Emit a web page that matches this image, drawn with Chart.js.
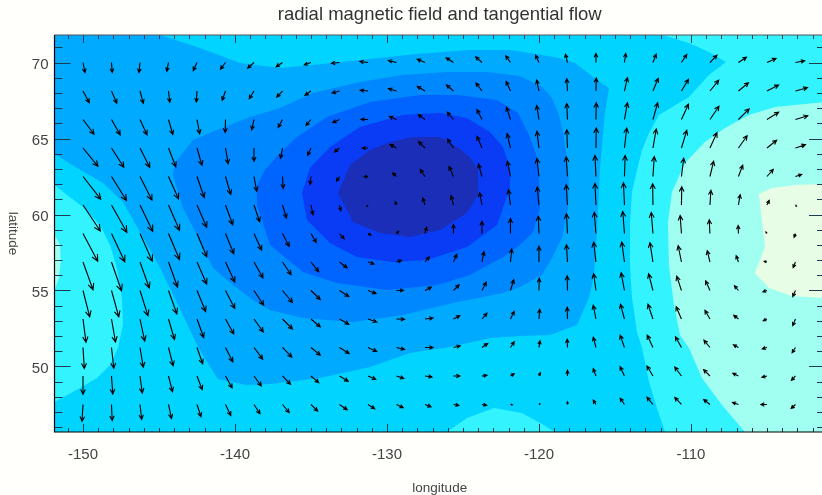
<!DOCTYPE html>
<html>
<head>
<meta charset="utf-8">
<title>radial magnetic field and tangential flow</title>
<script src="https://cdn.jsdelivr.net/npm/chart.js@4/dist/chart.umd.min.js"></script>
<style>
  html, body { margin: 0; padding: 0; background: #fffffb; overflow: hidden; }
  #wrap { width: 822px; height: 495px; overflow: hidden; }
  canvas { display: block; }
</style>
</head>
<body>
<div id="wrap"><canvas id="chart" width="830" height="495" style="width:830px;height:495px"></canvas></div>
<script>
const xTickVals = [-150, -140, -130, -120, -110];
const yTickVals = [50, 55, 60, 65, 70];
const xLimits = [-151.875, -101.18];
const yLimits = [45.69, 71.81];

// arrow tails
const flowLon = [-150, -148.125, -146.25, -144.375, -142.5, -140.625, -138.75, -136.875, -135, -133.125, -131.25, -129.375, -127.5, -125.625, -123.75, -121.875, -120, -118.125, -116.25, -114.375, -112.5, -110.625, -108.75, -106.875, -105, -103.125];
const flowLat = [70, 68.125, 66.25, 64.375, 62.5, 60.625, 58.75, 56.875, 55, 53.125, 51.25, 49.375, 47.5];

// tangential flow, one row per latitude
const flowU = [
  [2, 0.7, -1, -1.7, -3.7, -5, -6.3, -6.3, -6.7, -8, -8, -8, -7.7, -7.3, -6.3, -4.7, -3.3, -2, 0, 1.3, 3.3, 5.3, 7, 8, 9, 9.3],
  [6.3, 5.3, 3.3, 1.3, -0.7, -3.3, -4.7, -5.7, -6, -7.3, -7.7, -8, -7.7, -7, -6, -4.3, -2.3, -0.7, 0.3, 3, 5.3, 7, 8.7, 10, 11.7, 12],
  [11, 8.7, 7, 4.3, 2.7, -0.3, -2.3, -4.3, -5, -6.7, -7, -7, -6.7, -6.3, -5, -4, -2.3, -0.7, 0.3, 3, 4.7, 7, 9, 10.7, 11.7, 12.3],
  [15, 12.3, 9.7, 7.3, 5, 2.7, 0, -2, -3.3, -5, -5.7, -6.3, -6.3, -6, -5, -3.3, -2, -0.7, 0.3, 2.3, 3.3, 5.3, 7, 8.7, 9.7, 10],
  [17.7, 15, 12, 10, 7.3, 5.3, 2.7, 0.7, -1, -3, -3.7, -4, -4.7, -4.3, -3.5, -3, -2, -1.3, -1, 0.7, 1.3, 2.3, 3.7, 4.3, 6.3, 6.3],
  [17.3, 15.3, 12.7, 11, 9.7, 7.3, 5.7, 4, 2, 1.3, -1, -1.3, -2.3, -2.3, -2.3, -2, -1.7, -1.3, -1, -1, -0.3, 0.3, 1, 1.7, 2.3, 1],
  [14.7, 13.3, 12.3, 11, 9.7, 8.3, 7.7, 6.7, 5.3, 4.7, 3, 2, 1.7, 0, 0, 0, -0.7, -1, -1.7, -1.7, -1.7, -1.3, -0.7, -0.3, -1, -1.3],
  [10, 10, 9.3, 9, 9.7, 9.3, 9, 8.7, 7.7, 7.7, 6, 5, 4.3, 3.3, 2, 1.3, 0, -1, -2.3, -2.7, -3, -3.3, -2.7, -2.3, -2.7, -2.3],
  [6.7, 7.3, 8, 8.3, 8.7, 9.3, 9.7, 10, 9.3, 9.3, 8, 7, 6.3, 5.7, 4.3, 3.3, 0.3, -0.3, -2.3, -3.3, -4.3, -4.7, -4.3, -4, -4, -2.7],
  [3, 4, 4.7, 6, 6.7, 8.3, 9.3, 10, 9.3, 9.3, 8.7, 8, 8, 6.3, 5, 3.7, 0.7, -0.3, -2.7, -4, -5, -5.3, -5, -4.7, -3.7, -2.7],
  [1.3, 2.3, 3.3, 4.7, 5.7, 7.3, 8.7, 9.3, 9.3, 9.7, 8.7, 8, 8, 6.7, 5.7, 3.7, 1, -0.3, -2.7, -4.3, -5.7, -6, -6, -5, -4.7, -3.3],
  [0, 1.3, 2.3, 4, 5.3, 6.7, 7.3, 8, 7.7, 8.7, 7.7, 7.3, 7, 6.3, 5, 3.7, 1.3, 0, -2.7, -4.3, -6, -6.7, -6.3, -5.7, -5, -4],
  [-1, 0.7, 1.7, 3, 4, 5.3, 6, 6.7, 6.7, 7.7, 6.7, 6.7, 6, 5.3, 4.7, 2, 1, 0, -2.7, -4.3, -6, -6.7, -6.3, -6, -6, -4.3]
];
const flowV = [
  [-10, -10, -10, -8.7, -8, -6.7, -5.7, -4.3, -2.3, -0.7, 1, 2, 3.3, 4.7, 5.7, 6.7, 7.3, 8.3, 9, 9, 8.3, 8, 7.3, 5.3, 4, 1.7],
  [-11.7, -12.3, -12.3, -11.3, -11, -9.3, -7.7, -6, -4.3, -2, 0.7, 2.3, 4.7, 6, 8, 9.7, 11, 12.3, 13, 13.3, 12.7, 11.7, 10.7, 8.3, 6, 3.3],
  [-14.7, -15.3, -15.3, -15, -14.3, -13, -10.3, -8, -6, -3, 0.3, 3, 5, 7.3, 10, 12.3, 14, 16, 16.7, 16.7, 16.7, 15.3, 13.3, 10.7, 7.3, 3.7],
  [-18.3, -19.3, -19.3, -18.7, -17.3, -15.7, -13.3, -10.3, -7.3, -4, -0.3, 3.3, 6.3, 9, 11.7, 14.3, 16.7, 18.3, 20, 20, 19, 17.7, 15.3, 12.3, 7.7, 3.3],
  [-22.7, -24, -23.7, -22.3, -21, -18, -14.7, -12, -8, -4.7, -0.3, 3.7, 7, 10, 12.5, 15.3, 18, 19.7, 21, 21, 20, 18.3, 15.3, 11.3, 7, 2],
  [-26, -27.3, -26.3, -25.3, -22.3, -19.7, -16.7, -13, -9.7, -5.7, -1.3, 3.3, 7, 9.3, 12.3, 15.3, 18, 20.3, 21.7, 22.3, 21.3, 18.3, 14.7, 10.3, 4.7, -1],
  [-27.7, -28.3, -27.7, -26, -23.3, -20.3, -16.7, -13, -9, -5.3, -1.7, 2, 6.3, 9, 12.3, 15, 17.3, 19.7, 21.3, 22, 21, 18, 13.7, 8, 1.5, -3.7],
  [-27.7, -28.7, -26, -25, -22, -20, -16, -12.7, -9.7, -5.7, -2, 1.7, 5, 7.7, 10.3, 13, 15.7, 17.3, 19.7, 20, 19.3, 16.3, 11.3, 6.3, 0.7, -5.7],
  [-26.3, -26.3, -25.3, -23.3, -21, -18, -14.7, -12, -9, -6, -3, 0.3, 3.3, 5.7, 8.3, 10.7, 12.3, 14.7, 16.7, 17.7, 16.7, 14.3, 9.7, 4.7, -1.3, -6],
  [-23.2, -23, -22, -20.5, -18.5, -15, -13, -10, -8, -5.3, -3, -0.3, 1, 3.3, 5.7, 7.7, 9.7, 11.7, 13.7, 14.7, 14.7, 12.3, 8.7, 3.7, -1.7, -6.7],
  [-21, -20.7, -19.7, -18.3, -16.3, -14.3, -11.7, -9.7, -7.7, -6, -4, -2, 0, 1.7, 4, 5.7, 6.7, 8.3, 10.3, 12.3, 12.3, 10.7, 7.3, 2.7, -1.3, -5.3],
  [-18.3, -18, -17, -15.7, -13.7, -12, -10, -8.3, -6.7, -5.3, -3.3, -2.3, -1, 0, 0.7, 2.3, 3.3, 5.7, 7.3, 9.3, 10, 9, 6.3, 2.7, -1.3, -4.3],
  [-16.7, -16, -15, -14, -12.3, -11, -9.3, -8, -6.7, -5.3, -4.3, -3.3, -2.3, -1, -0.7, -0.3, 0.7, 2.7, 4.3, 6.3, 7.3, 7, 5, 2, 0, -4]
];

// filled contour regions, lon/lat outlines
const plotBox = [[-151.875, 45.69], [-101.18, 45.69], [-101.18, 71.81], [-151.875, 71.81]];
const band6Right = [[-111.91, 71.81], [-110.13, 71.28], [-108.82, 70.69], [-107.7, 70.03], [-108.82, 69.18], [-110.13, 67.73], [-112.11, 66.55], [-112.76, 65.36], [-113.22, 64.24], [-113.55, 62.93], [-113.88, 61.48], [-114.01, 59.51], [-114.01, 56.68], [-113.88, 54.51], [-113.55, 52.27], [-113.22, 51.22], [-112.76, 48.98], [-112.24, 47.27], [-111.71, 45.69], [-101.18, 45.69], [-101.18, 71.81]];
const band6Left = [[-151.875, 61.94], [-151.05, 61.28], [-150, 60.49], [-148.88, 59.31], [-148.22, 57.99], [-147.76, 56.48], [-147.43, 54.51], [-147.37, 52.73], [-147.7, 51.22], [-148.22, 50.1], [-149.08, 49.24], [-150.2, 48.59], [-151.875, 47.66]];
const band6Bottom = [[-126.05, 45.69], [-124.74, 46.61], [-122.96, 47.27], [-121.12, 46.94], [-119.8, 46.22], [-118.95, 45.69]];
const band7Right = [[-101.18, 67.4], [-104.47, 67.07], [-106.18, 66.55], [-107.76, 65.69], [-109.08, 64.77], [-110.39, 63.39], [-111.25, 61.48], [-111.51, 59.51], [-111.45, 56.68], [-111.12, 54.05], [-110.72, 52.07], [-110.13, 51.22], [-109.28, 49.24], [-107.96, 47.47], [-106.45, 45.69], [-101.18, 45.69]];
const band7Left = [[-151.875, 58.65], [-151.51, 57.99], [-151.47, 56.87], [-151.58, 55.82], [-151.875, 55.03]];
const band8 = [[-105.53, 61.35], [-104.67, 61.74], [-103.16, 61.94], [-101.18, 62.01], [-101.18, 54.51], [-103.36, 54.64], [-104.87, 55.16], [-105.79, 56.15], [-105.13, 57.86]];
const band4 = [[-144.93, 71.81], [-142.3, 70.95], [-139.67, 69.97], [-137.04, 69.64], [-134.87, 69.84], [-131.78, 70.16], [-128.03, 70.56], [-124.54, 70.82], [-121.91, 70.82], [-119.8, 70.49], [-118.68, 70.3], [-117.63, 69.97], [-116.18, 68.85], [-115.39, 68.32], [-115.66, 66.68], [-115.86, 64.44], [-115.99, 62.93], [-116.18, 58.85], [-116.38, 56.02], [-116.71, 54.51], [-117.5, 52.73], [-119.28, 52.07], [-121.25, 52.01], [-123.22, 51.87], [-125.86, 51.28], [-128.49, 50.89], [-131.12, 49.97], [-134.41, 49.24], [-137.7, 48.85], [-139.21, 48.78], [-141.12, 49.18], [-141.84, 50.3], [-142.5, 51.41], [-143.42, 53.39], [-144.28, 55.16], [-145.13, 56.87], [-146.25, 58.85], [-147.37, 60.82], [-148.68, 62.07], [-150.39, 63.06], [-151.875, 63.98], [-151.875, 71.81]];
const band3 = [[-144.08, 62.6], [-143.95, 63.39], [-142.76, 64.9], [-141.18, 65.56], [-139.01, 66.41], [-137.04, 67.01], [-134.87, 67.99], [-131.78, 68.72], [-128.95, 69.18], [-126.05, 69.37], [-123.42, 69.37], [-121.25, 69.11], [-119.8, 68.39], [-119.14, 67.66], [-118.68, 66.55], [-118.36, 65.1], [-118.16, 63.78], [-118.03, 62.27], [-118.09, 60.43], [-118.49, 58.45], [-119.14, 57.14], [-119.8, 56.02], [-121.25, 55.23], [-122.37, 54.84], [-125.66, 54.18], [-128.95, 53.39], [-132.24, 52.93], [-135.53, 53.19], [-137.7, 53.72], [-138.82, 54.37], [-140.13, 55.36], [-141.45, 56.48], [-142.5, 58.65], [-143.42, 60.43]];
const band2 = [[-138.03, 62.93], [-137.04, 64.05], [-135.92, 65.1], [-133.95, 66.41], [-131.12, 67.4], [-127.83, 67.86], [-125.39, 67.86], [-122.76, 67.53], [-121.38, 66.68], [-120.72, 65.36], [-120.13, 63.78], [-120, 62.6], [-119.93, 60.43], [-120.39, 58.85], [-121.25, 57.99], [-122.37, 57.2], [-124.54, 56.02], [-126.71, 55.36], [-130, 55.03], [-133.29, 55.49], [-135.53, 56.22], [-137.7, 57.99], [-138.55, 60.62], [-138.55, 61.94]];
const band1 = [[-135.59, 61.41], [-135.07, 63.06], [-133.75, 64.44], [-131.78, 65.76], [-128.95, 66.55], [-126.51, 66.68], [-124.74, 66.35], [-123.22, 65.43], [-122.37, 64.44], [-121.91, 63.06], [-121.91, 61.74], [-122.76, 59.31], [-124.74, 57.86], [-127.37, 57.01], [-129.61, 56.87], [-131.97, 57.2], [-133.75, 58.12], [-135.26, 59.64]];
const band0 = [[-133.22, 61.41], [-132.43, 63.26], [-131.12, 64.24], [-129.8, 64.77], [-128.29, 65.1], [-126.51, 65.1], [-125.39, 64.44], [-124.54, 63.78], [-124.01, 62.93], [-124.01, 61.28], [-124.74, 60.1], [-126.51, 58.98], [-128.49, 58.52], [-130.46, 58.78], [-132.24, 59.51]];

const bands = [
  [plotBox, '#00d4ff'],
  [band6Right, '#33f3ff'],
  [band6Left, '#33f3ff'],
  [band6Bottom, '#33f3ff'],
  [band7Right, '#a0fff0'],
  [band7Left, '#a0fff0'],
  [band8, '#e8fde6'],
  [band4, '#00aaff'],
  [band3, '#0088ff'],
  [band2, '#0064ff'],
  [band1, '#0a3cf5'],
  [band0, '#1a2eb8']
];

const datasets = bands.map(function(b, i) {
  return {
    type: 'scatter',
    data: b[0].map(function(p) { return { x: p[0], y: p[1] }; }),
    showLine: true,
    fill: 'shape',
    backgroundColor: b[1],
    borderColor: b[1],
    borderWidth: 0,
    pointRadius: 0,
    order: 100 - i
  };
});

// arrows, drawn after the contours
const arrowPlugin = {
  id: 'arrows',
  afterDatasetsDraw: function(chart) {
    const ctx = chart.ctx;
    const x = chart.scales.x;
    const y = chart.scales.y;
    ctx.save();
    ctx.strokeStyle = '#000';
    ctx.lineWidth = 1.1;
    flowLat.forEach(function(lat, r) {
      flowLon.forEach(function(lon, c) {
        const x0 = x.getPixelForValue(lon);
        const y0 = y.getPixelForValue(lat);
        const x1 = x0 + flowU[r][c];
        const y1 = y0 - flowV[r][c];
        const len = Math.hypot(x1 - x0, y1 - y0);
        const head = Math.min(3 + len * 0.13, len * 0.8);
        const ang = Math.atan2(y1 - y0, x1 - x0);
        ctx.beginPath();
        ctx.moveTo(x0, y0);
        ctx.lineTo(x1, y1);
        ctx.moveTo(x1 - head * Math.cos(ang - 0.45), y1 - head * Math.sin(ang - 0.45));
        ctx.lineTo(x1, y1);
        ctx.lineTo(x1 - head * Math.cos(ang + 0.45), y1 - head * Math.sin(ang + 0.45));
        ctx.stroke();
      });
    });
    ctx.restore();
  }
};

// inward ticks on all four sides, plus the frame and the downward ylabel
const framePlugin = {
  id: 'frame',
  afterDraw: function(chart) {
    const ctx = chart.ctx;
    const a = chart.chartArea;
    const x = chart.scales.x;
    const y = chart.scales.y;
    ctx.save();
    ctx.lineWidth = 1;
    ctx.strokeStyle = '#1c3c50';
    for (let v = -151; v <= -102; v++) {
      const px = Math.round(x.getPixelForValue(v)) + 0.5;
      const len = v % 10 === 0 ? 8 : 4;
      ctx.beginPath();
      ctx.moveTo(px, a.top);
      ctx.lineTo(px, a.top + len);
      ctx.moveTo(px, a.bottom);
      ctx.lineTo(px, a.bottom - len);
      ctx.stroke();
    }
    for (let v = 46; v <= 71; v++) {
      const py = Math.round(y.getPixelForValue(v)) + 0.5;
      const len = v % 5 === 0 ? 16 : 8;
      ctx.beginPath();
      ctx.moveTo(a.left, py);
      ctx.lineTo(a.left + len, py);
      ctx.moveTo(a.right, py);
      ctx.lineTo(a.right - len, py);
      ctx.stroke();
    }
    ctx.strokeStyle = '#555';
    ctx.lineWidth = 1.2;
    ctx.beginPath();
    ctx.moveTo(a.left, a.top);
    ctx.lineTo(a.right, a.top);
    ctx.stroke();
    ctx.strokeStyle = '#000';
    ctx.beginPath();
    ctx.moveTo(a.left, a.top);
    ctx.lineTo(a.left, a.bottom);
    ctx.lineTo(a.right, a.bottom);
    ctx.stroke();

    ctx.translate(13, (a.top + a.bottom) / 2);
    ctx.rotate(Math.PI / 2);
    ctx.fillStyle = '#444';
    ctx.font = '13.5px "Liberation Sans"';
    ctx.textAlign = 'center';
    ctx.textBaseline = 'middle';
    ctx.fillText('latitude', 0, 0);
    ctx.restore();
  }
};

new Chart(document.getElementById('chart'), {
  type: 'scatter',
  data: { datasets: datasets },
  plugins: [arrowPlugin, framePlugin],
  options: {
    responsive: false,
    animation: false,
    layout: { padding: { right: 5, left: 0, top: 0, bottom: 0 } },
    plugins: {
      legend: { display: false },
      tooltip: { enabled: false },
      title: {
        display: true,
        text: 'radial magnetic field and tangential flow',
        color: '#333',
        fullSize: false,
        font: { family: 'Liberation Sans', size: 18.5, weight: 'normal', lineHeight: 1.2 },
        padding: { top: 3.5, bottom: 9.3 }
      }
    },
    scales: {
      x: {
        type: 'linear',
        min: xLimits[0],
        max: xLimits[1],
        afterBuildTicks: function(scale) { scale.ticks = xTickVals.map(function(v) { return { value: v }; }); },
        afterFit: function(scale) { scale.height = 63; },
        ticks: { color: '#444', font: { family: 'Liberation Sans', size: 15 }, padding: 14, autoSkip: false, maxRotation: 0 },
        grid: { display: false, drawTicks: false },
        border: { display: false },
        title: { display: true, text: 'longitude', color: '#444', font: { family: 'Liberation Sans', size: 13.5, lineHeight: 1 }, padding: { top: 15, bottom: 0 } }
      },
      y: {
        type: 'linear',
        min: yLimits[0],
        max: yLimits[1],
        afterBuildTicks: function(scale) { scale.ticks = yTickVals.map(function(v) { return { value: v }; }); },
        afterFit: function(scale) { scale.width = 54.5; },
        ticks: { color: '#444', font: { family: 'Liberation Sans', size: 15 }, padding: 6, labelOffset: 2 },
        grid: { display: false, drawTicks: false },
        border: { display: false }
      }
    }
  }
});
</script>
</body>
</html>
